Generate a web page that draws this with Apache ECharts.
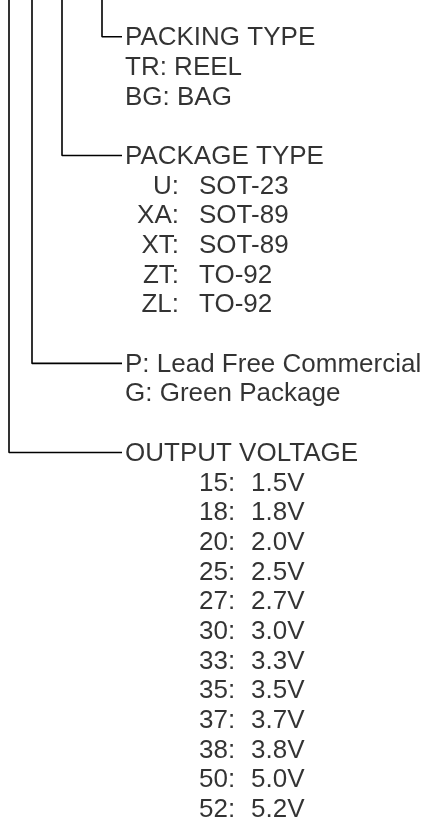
<!DOCTYPE html>
<html>
<head>
<meta charset="utf-8">
<title>Ordering information</title>
<script src="https://cdn.jsdelivr.net/npm/echarts@6/dist/echarts.min.js"></script>
<style>
    html, body { margin: 0; padding: 0; background: #fff; }
    #main { width: 428px; height: 823px; }
</style>
</head>
<body>
<div id="main"></div>
<script>
// 包装方式
var packingTitle = 'PACKING TYPE';
var packingCodes = ['TR', 'BG'];
var packingNames = ['REEL', 'BAG'];
// 封装
var packageTitle = 'PACKAGE TYPE';
var packageCodes = ['U', 'XA', 'XT', 'ZT', 'ZL'];
var packageNames = ['SOT-23', 'SOT-89', 'SOT-89', 'TO-92', 'TO-92'];
// 环保
var leadCodes = ['P', 'G'];
var leadNames = ['Lead Free Commercial', 'Green Package'];
// 输出电压
var voltageTitle = 'OUTPUT VOLTAGE';
var voltageCodes = ['15', '18', '20', '25', '27', '30', '33', '35', '37', '38', '50', '52'];
var voltageValues = ['1.5V', '1.8V', '2.0V', '2.5V', '2.7V', '3.0V', '3.3V', '3.5V', '3.7V', '3.8V', '5.0V', '5.2V'];

var chart = echarts.init(document.getElementById('main'));

var FONT = 'Liberation Sans, Arial, sans-serif';
var FS = 26;
var TEXT_X = 125;   // 标题起点
var LINE_END = 122; // 横线终点
var ROW_MIN = -1.28, ROW_MAX = 26.44;

var sections = [
    {title: packingTitle, codes: packingCodes, names: packingNames, style: 'inline', level: 102},
    {title: packageTitle, codes: packageCodes, names: packageNames, style: 'right', level: 62, codeX: 179, nameX: 199},
    {title: null, codes: leadCodes, names: leadNames, style: 'inline', level: 32},
    {title: voltageTitle, codes: voltageCodes, names: voltageValues, style: 'left', level: 9, codeX: 199, nameX: 251}
];

var leftTexts = [], rightTexts = [], connectors = [];
var row = 0;
sections.forEach(function (sec) {
    var hookRow = row;
    if (sec.title) {
        leftTexts.push({value: [TEXT_X, row], text: sec.title});
        row++;
    }
    sec.codes.forEach(function (code, i) {
        if (sec.style === 'inline') {
            leftTexts.push({value: [TEXT_X, row], text: code + ': ' + sec.names[i]});
        } else if (sec.style === 'right') {
            rightTexts.push({value: [sec.codeX, row], text: code + ':'});
            leftTexts.push({value: [sec.nameX, row], text: sec.names[i]});
        } else {
            leftTexts.push({value: [sec.codeX, row], text: code + ':'});
            leftTexts.push({value: [sec.nameX, row], text: sec.names[i]});
        }
        row++;
    });
    row++; // 空行
    connectors.push([[sec.level, ROW_MIN], [sec.level, hookRow - 0.04], [LINE_END, hookRow - 0.04]]);
});

var labelBase = {
    show: true,
    color: '#000',
    fontFamily: FONT,
    fontSize: FS,
    distance: 0,
    formatter: function (p) { return p.data.text; }
};

var series = [
    {
        type: 'scatter',
        symbolSize: 0,
        data: leftTexts,
        label: Object.assign({}, labelBase, {position: 'right'}),
        silent: true
    },
    {
        type: 'scatter',
        symbolSize: 0,
        data: rightTexts,
        label: Object.assign({}, labelBase, {position: 'left'}),
        silent: true
    }
];
connectors.forEach(function (c) {
    series.push({
        type: 'line',
        data: c,
        symbol: 'none',
        lineStyle: {color: '#000', width: 1.6},
        silent: true
    });
});

var option = {
    animation: false,
    grid: {left: 0, right: 0, top: 0, bottom: 0},
    xAxis: {type: 'value', min: 0, max: 428, show: false},
    yAxis: {type: 'value', min: ROW_MIN, max: ROW_MAX, inverse: true, show: false},
    series: series
};
chart.setOption(option);
</script>
</body>
</html>
